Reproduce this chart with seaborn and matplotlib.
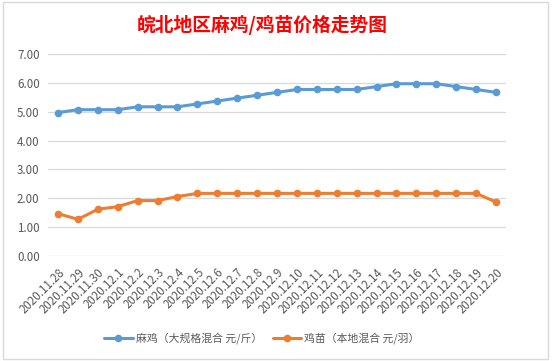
import matplotlib
matplotlib.use("Agg")
import matplotlib.pyplot as plt
import seaborn as sns
import pandas as pd
from matplotlib.patches import Rectangle
from matplotlib.lines import Line2D

dates = ["2020.11.28", "2020.11.29", "2020.11.30", "2020.12.1", "2020.12.2", "2020.12.3",
         "2020.12.4", "2020.12.5", "2020.12.6", "2020.12.7", "2020.12.8", "2020.12.9",
         "2020.12.10", "2020.12.11", "2020.12.12", "2020.12.13", "2020.12.14", "2020.12.15",
         "2020.12.16", "2020.12.17", "2020.12.18", "2020.12.19", "2020.12.20"]
maji = [4.97, 5.07, 5.07, 5.07, 5.17, 5.17, 5.17, 5.27, 5.37, 5.47, 5.57, 5.67,
        5.77, 5.77, 5.77, 5.77, 5.87, 5.97, 5.97, 5.97, 5.87, 5.77, 5.67]
jimiao = [1.47, 1.27, 1.62, 1.71, 1.92, 1.92, 2.06, 2.17, 2.17, 2.17, 2.17, 2.17,
          2.17, 2.17, 2.17, 2.17, 2.17, 2.17, 2.17, 2.17, 2.17, 2.17, 1.87]
series_names = ["麻鸡（大规格混合 元/斤）", "鸡苗（本地混合 元/羽）"]
yticks = [0, 1, 2, 3, 4, 5, 6, 7]
title = "皖北地区麻鸡/鸡苗价格走势图"

sns.set_theme(style="white")
plt.rcParams['font.family'] = ['Noto Sans CJK SC', 'DejaVu Sans']

df = pd.DataFrame({
    "x": list(range(len(dates))) * 2,
    "value": maji + jimiao,
    "series": [series_names[0]] * len(dates) + [series_names[1]] * len(dates),
})
palette = {series_names[0]: "#5B9BD5", series_names[1]: "#ED7D31"}

fig = plt.figure(figsize=(5.58, 3.61), dpi=100)
fig.patch.set_facecolor("white")

# chart border
fig.patches.append(Rectangle((3 / 558, 1 - 359 / 361), 545 / 558, 357 / 361,
                             transform=fig.transFigure, fill=False,
                             edgecolor="#D9D9D9", linewidth=1.0))

ax = fig.add_axes([48 / 558, 1 - 256 / 361, 458 / 558, 202 / 361])
sns.lineplot(data=df, x="x", y="value", hue="series", palette=palette, ax=ax,
             marker="o", markersize=5.5, markeredgewidth=0, linewidth=2.2,
             legend=False, zorder=3)

ax.set_xlim(-0.5, len(dates) - 0.5)
ax.set_ylim(0, 7)
ax.set_yticks(yticks)
ax.set_yticklabels([f"{v:.2f}" for v in yticks], fontsize=8.3, color="#595959")
ax.set_xticks(range(len(dates)))
ax.set_xticklabels(dates, rotation=45, ha="right", rotation_mode="anchor",
                   fontsize=8.3, color="#595959")
ax.tick_params(axis="x", pad=7, length=0)
ax.tick_params(axis="y", pad=6, length=0)
ax.set_xlabel("")
ax.set_ylabel("")
ax.grid(axis="y", color="#D9D9D9", linewidth=0.9)
ax.set_axisbelow(True)
for s in ax.spines.values():
    s.set_visible(False)

fig.text(262 / 558, 1 - 25 / 361, title, ha="center", va="center",
         fontsize=13.5, fontweight="bold", color="#FF0000")

handles = [Line2D([0], [0], color=palette[n], marker="o", markersize=5.5,
                  markeredgewidth=0, linewidth=2.2) for n in series_names]
fig.legend(handles, series_names, loc="center", bbox_to_anchor=(262 / 558, 1 - 338 / 361),
           ncol=2, frameon=False, fontsize=7.8, handlelength=2.6, columnspacing=1.0,
           handletextpad=0.3, labelcolor="#595959")

fig.savefig("out.png", dpi=100)
